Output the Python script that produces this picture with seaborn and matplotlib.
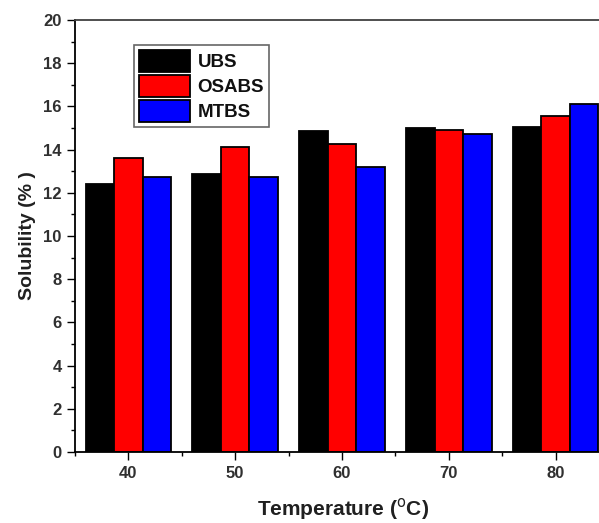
import matplotlib
matplotlib.use("Agg")
import matplotlib.pyplot as plt
import seaborn as sns
import pandas as pd
from matplotlib.ticker import MultipleLocator

temperatures = [40, 50, 60, 70, 80]
series_names = ["UBS", "OSABS", "MTBS"]
ubs = [12.4, 12.85, 14.85, 15.0, 15.05]
osabs = [13.6, 14.1, 14.27, 14.9, 15.55]
mtbs = [12.75, 12.75, 13.18, 14.7, 16.12]
colors = ["#000000", "#ff0000", "#0000ff"]

rows = []
for name, vals in zip(series_names, [ubs, osabs, mtbs]):
    for t, v in zip(temperatures, vals):
        rows.append({"Temperature": t, "Solubility": v, "Series": name})
df = pd.DataFrame(rows)

sns.set_style("ticks")
plt.rcParams["font.family"] = ["Liberation Sans", "DejaVu Sans"]

fig = plt.figure(figsize=(5.99, 5.23), dpi=100)
ax = fig.add_axes([75 / 599, 1 - 452 / 523, 534 / 599, 432 / 523])

sns.barplot(data=df, x="Temperature", y="Solubility", hue="Series",
            hue_order=series_names, palette=colors, native_scale=True,
            saturation=1, width=0.8, edgecolor="black", linewidth=1.3,
            errorbar=None, ax=ax)

ax.set_xlim(35, 85)
ax.set_ylim(0, 20)
ax.set_xticks(temperatures)
ax.set_xticklabels([str(t) for t in temperatures])
ax.xaxis.set_minor_locator(MultipleLocator(5))
ax.yaxis.set_major_locator(MultipleLocator(2))
ax.yaxis.set_minor_locator(MultipleLocator(1))
ax.tick_params(axis="both", which="major", direction="out", length=6, width=1,
               labelsize=12, labelcolor="#303030", color="black")
ax.tick_params(axis="both", which="minor", direction="out", length=3, width=1, color="black")
ax.tick_params(axis="x", pad=4)
for lbl in ax.get_xticklabels() + ax.get_yticklabels():
    lbl.set_fontweight("bold")

for s in ["left", "bottom", "top"]:
    ax.spines[s].set_visible(True)
    ax.spines[s].set_linewidth(1.3)
    ax.spines[s].set_color("black")
ax.spines["top"].set_color("#404040")
ax.spines["right"].set_visible(False)

ax.set_xlabel("")
ax.set_ylabel("Solubility (% )", fontsize=14, fontweight="bold", color="#202020",
              labelpad=5)
fig.text(343 / 599, 1 - 509 / 523, "Temperature ($^{\\mathrm{o}}$C)", fontsize=15,
         fontweight="bold", color="#202020", ha="center", va="center")

handles, labels = ax.get_legend_handles_labels()
if ax.get_legend() is not None:
    ax.get_legend().remove()
leg = ax.legend(handles, labels, loc="upper left",
                bbox_to_anchor=(134 / 599, 1 - 45 / 523), bbox_transform=fig.transFigure,
                borderaxespad=0, frameon=True, fancybox=False,
                prop={"weight": "bold", "size": 13.5},
                handlelength=2.75, handleheight=1.45, labelspacing=0.15,
                handletextpad=0.4, borderpad=0.25)
leg.get_frame().set_edgecolor("#404040")
leg.get_frame().set_linewidth(1.2)
for t in leg.get_texts():
    t.set_color("#101010")

fig.savefig("out.png", dpi=100)
